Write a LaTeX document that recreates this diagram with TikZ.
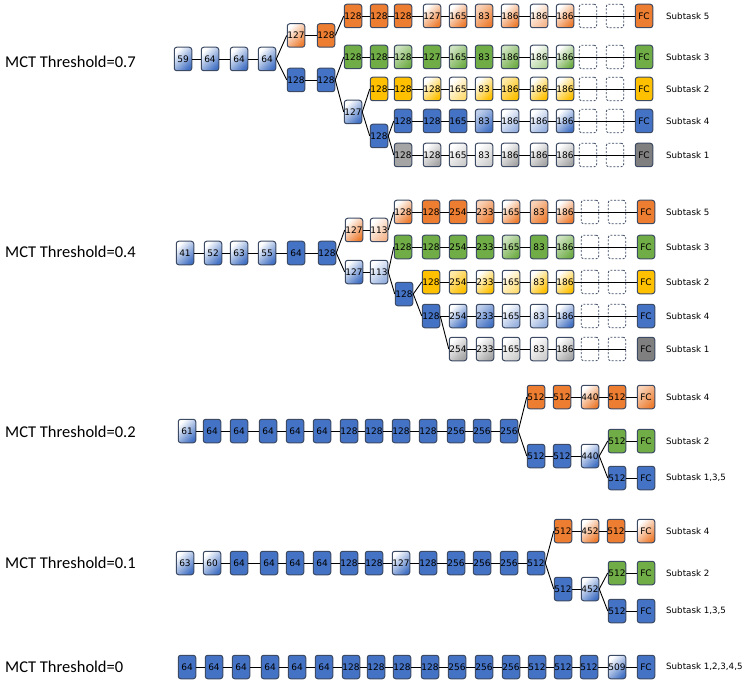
\documentclass[tikz,border=0pt]{standalone}
\usepackage{fontspec}
\setmainfont{DejaVu Sans}
\newfontfamily\mctfont{Carlito}
\definecolor{cB}{HTML}{4472C4}
\definecolor{cO}{HTML}{ED7D31}
\definecolor{cG}{HTML}{70AD47}
\definecolor{cY}{HTML}{FFC000}
\definecolor{cK}{HTML}{A5A5A5}
\definecolor{cD}{HTML}{7F7F7F}
\definecolor{cedge}{HTML}{3C4A63}
\tikzset{
  box/.style={draw=cedge, line width=1pt, rounded corners=2.5pt, minimum width=17.5pt, minimum height=23.5pt, inner sep=0pt, font=\fontsize{9}{10}\selectfont},
  dbox/.style={draw=cedge, line width=0.8pt, dash pattern=on 2pt off 1.6pt, rounded corners=2.5pt, minimum width=17.5pt, minimum height=23.5pt, inner sep=0pt},
  conn/.style={line width=0.9pt, black},
  sublbl/.style={anchor=west, inner sep=0pt, font=\fontsize{8.7}{10}\selectfont},
  mctlbl/.style={anchor=west, inner sep=0pt, font=\mctfont\fontsize{16.5}{20}\selectfont},
  sol/.style={fill=#1},
  mid/.style={top color=#1!35!white, bottom color=#1, shading angle=45},
  lig/.style={top color=white, bottom color=#1, shading angle=45},
  wht/.style={top color=white, bottom color=#1!55!white, shading angle=45},
  sB/.style={sol=cB}, mB/.style={mid=cB}, lB/.style={lig=cB}, wB/.style={wht=cB},
  sO/.style={sol=cO}, mO/.style={mid=cO}, lO/.style={lig=cO}, wO/.style={wht=cO},
  sG/.style={sol=cG}, mG/.style={mid=cG}, lG/.style={lig=cG}, wG/.style={wht=cG},
  sY/.style={sol=cY}, mY/.style={mid=cY}, lY/.style={lig=cY}, wY/.style={wht=cY},
  sK/.style={sol=cK}, mK/.style={mid=cK}, lK/.style={lig=cK}, wK/.style={wht=cK},
  sD/.style={sol=cD},
}
\newcommand\mkrow[3]{%
  \foreach \xx/\lb/\st [count=\ii] in {#3}{%
    \node[box,\st] (#1\ii) at (\xx,#2) {\lb};
    \ifnum\ii>1 \pgfmathtruncatemacro\pv{\ii-1}\draw[conn] (#1\pv) -- (#1\ii);\fi
  }}
\newcommand\tailrow[5]{%
  \node[dbox] (#1d1) at (#5-56,#2) {};
  \node[dbox] (#1d2) at (#5-29,#2) {};
  \node[box,#3] (#1fc) at (#5,#2) {FC};
  \draw[conn] (#1#4) -- (#1fc);
}
\begin{document}
\begin{tikzpicture}[x=1pt,y=-1pt]
\useasboundingbox (0,0) rectangle (747,687);

% ===== MCT Threshold=0.7 =====
\node[mctlbl] (t1) at (5,62) {MCT Threshold=0.7};
\mkrow{a-}{59}{183/59/lB,210/64/lB,239/64/lB,267/64/lB}
\mkrow{ao-}{35.5}{296/127/lO,326/128/sO}
\mkrow{ab-}{80}{296/128/sB,326/128/sB}
\mkrow{ac-}{112}{353/127/lB}
\mkrow{ad-}{136}{379/128/sB}
\mkrow{ar5-}{16}{353/128/sO,379/128/sO,403/128/sO,432/127/lO,458/165/lO,484/83/mO,510/186/lO,539/186/wO,565/186/lO}
\tailrow{ar5-}{16}{sO}{9}{644}
\mkrow{ar3-}{57}{353/128/sG,379/128/sG,403/128/mG,432/127/sG,458/165/mG,484/83/sG,510/186/mG,539/186/wG,565/186/lG}
\tailrow{ar3-}{57}{sG}{9}{644}
\mkrow{ar2-}{89}{379/128/sY,403/128/sY,432/128/lY,458/165/wY,484/83/lY,510/186/mY,539/186/lY,565/186/lY}
\tailrow{ar2-}{89}{sY}{8}{644}
\mkrow{ar4-}{121}{403/128/sB,432/128/sB,458/165/sB,484/83/mB,510/186/wB,539/186/wB,565/186/lB}
\tailrow{ar4-}{121}{sB}{7}{644}
\mkrow{ar1-}{155}{403/128/sK,432/128/lK,458/165/wK,484/83/wK,510/186/lK,539/186/lK,565/186/lK}
\tailrow{ar1-}{155}{sD}{7}{644}
\draw[conn] (a-4.east) -- (ao-1.west);
\draw[conn] (a-4.east) -- (ab-1.west);
\draw[conn] (ao-2.east) -- (ar5-1.west);
\draw[conn] (ab-2.east) -- (ar3-1.west);
\draw[conn] (ab-2.east) -- (ac-1.west);
\draw[conn] (ac-1.east) -- (ar2-1.west);
\draw[conn] (ac-1.east) -- (ad-1.west);
\draw[conn] (ad-1.east) -- (ar4-1.west);
\draw[conn] (ad-1.east) -- (ar1-1.west);
\node[sublbl] (s15) at (666,16) {Subtask 5};
\node[sublbl] (s13) at (666,57) {Subtask 3};
\node[sublbl] (s12) at (666,89) {Subtask 2};
\node[sublbl] (s14) at (666,121) {Subtask 4};
\node[sublbl] (s11) at (666,155) {Subtask 1};

% ===== MCT Threshold=0.4 =====
\node[mctlbl] (t2) at (5,252) {MCT Threshold=0.4};
\mkrow{b-}{253}{185/41/lB,213/52/lB,239/63/lB,267/55/lB,296/64/sB,327/128/sB}
\mkrow{bo-}{230}{354/127/lO,379/113/wO}
\mkrow{bb-}{272}{354/127/lB,379/113/wB}
\mkrow{bc-}{294}{404/128/sB}
\mkrow{br5-}{212}{403/128/lO,431/128/sO,458/254/sO,485/233/mO,511/165/lO,539/83/mO,565/186/lO}
\tailrow{br5-}{212}{sO}{7}{646}
\mkrow{br3-}{247}{403/128/sG,431/128/sG,458/254/sG,485/233/sG,511/165/mG,539/83/sG,565/186/mG}
\tailrow{br3-}{247}{sG}{7}{646}
\mkrow{br2-}{282}{431/128/sY,458/254/mY,485/233/lY,511/165/wY,539/83/lY,565/186/lY}
\tailrow{br2-}{282}{sY}{6}{646}
\mkrow{br4-}{316}{431/128/sB,458/254/lB,485/233/mB,511/165/wB,539/83/wB,565/186/lB}
\tailrow{br4-}{316}{sB}{6}{646}
\mkrow{br1-}{349}{458/254/lK,485/233/lK,511/165/wK,539/83/wK,565/186/lK}
\node[dbox] (br1-d1) at (590,349) {};
\node[dbox] (br1-d2) at (617,349) {};
\node[box,sD] (br1-fc) at (646,349) {FC};
\coordinate (br1-end) at (626,349);
\draw[conn] (br1-5) -- (br1-end);
\draw[conn] (b-6.east) -- (bo-1.west);
\draw[conn] (b-6.east) -- (bb-1.west);
\draw[conn] (bo-2.east) -- (br5-1.west);
\draw[conn] (bb-2.east) -- (br3-1.west);
\draw[conn] (bb-2.east) -- (bc-1.west);
\draw[conn] (bc-1.east) -- (br2-1.west);
\draw[conn] (bc-1.east) -- (br4-1.west);
\draw[conn] (br4-1.east) -- (br1-1.west);
\node[sublbl] (s25) at (666,212) {Subtask 5};
\node[sublbl] (s23) at (666,247) {Subtask 3};
\node[sublbl] (s22) at (666,282) {Subtask 2};
\node[sublbl] (s24) at (666,316) {Subtask 4};
\node[sublbl] (s21) at (666,349) {Subtask 1};

% ===== MCT Threshold=0.2 =====
\node[mctlbl] (t3) at (5,432) {MCT Threshold=0.2};
\mkrow{c-}{431}{187/61/lB,212/64/sB,239/64/sB,268/64/sB,295/64/sB,322/64/sB,349/128/sB,374/128/sB,401/128/sB,428/128/sB,456/256/sB,482/256/sB,509/256/sB}
\mkrow{cu-}{397}{536/512/sO,562/512/sO,590/440/lO,617/512/sO,646/FC/mO}
\mkrow{cl-}{456}{536/512/sB,562/512/sB,590/440/lB}
\mkrow{cg-}{441}{617/512/sG,646/FC/sG}
\mkrow{cb-}{478}{617/512/sB,646/FC/sB}
\draw[conn] (c-13.east) -- (cu-1.west);
\draw[conn] (c-13.east) -- (cl-1.west);
\draw[conn] (cl-3.east) -- (cg-1.west);
\draw[conn] (cl-3.east) -- (cb-1.west);
\node[sublbl] (s34) at (666,397) {Subtask 4};
\node[sublbl] (s32) at (666,441) {Subtask 2};
\node[sublbl] (s31) at (666,478) {Subtask 1,3,5};

% ===== MCT Threshold=0.1 =====
\node[mctlbl] (t4) at (5,563) {MCT Threshold=0.1};
\mkrow{d-}{563}{185/63/lB,212/60/lB,239/64/sB,269/64/sB,295/64/sB,322/64/sB,349/128/sB,374/128/sB,401/127/lB,428/128/sB,456/256/sB,482/256/sB,509/256/sB,536/512/sB}
\mkrow{du-}{531}{563/512/sO,590/452/lO,616/512/sO,646/FC/lO}
\mkrow{dl-}{589}{563/512/sB,590/452/lB}
\mkrow{dg-}{573}{617/512/sG,646/FC/sG}
\mkrow{db-}{611}{617/512/sB,646/FC/sB}
\draw[conn] (d-14.east) -- (du-1.west);
\draw[conn] (d-14.east) -- (dl-1.west);
\draw[conn] (dl-2.east) -- (dg-1.west);
\draw[conn] (dl-2.east) -- (db-1.west);
\node[sublbl] (s44) at (666,531) {Subtask 4};
\node[sublbl] (s42) at (666,573) {Subtask 2};
\node[sublbl] (s41) at (666,611) {Subtask 1,3,5};

% ===== MCT Threshold=0 =====
\node[mctlbl] (t5) at (5,667) {MCT Threshold=0};
\mkrow{e-}{667}{187/64/sB,214/64/sB,241/64/sB,270/64/sB,297/64/sB,324/64/sB,351/128/sB,376/128/sB,402/128/sB,430/128/sB,457/256/sB,484/256/sB,511/256/sB,537/512/sB,563/512/sB,589/512/sB,617/509/lB,646/FC/sB}
\node[sublbl] (s5) at (666,667) {Subtask 1,2,3,4,5};
\end{tikzpicture}
\end{document}
